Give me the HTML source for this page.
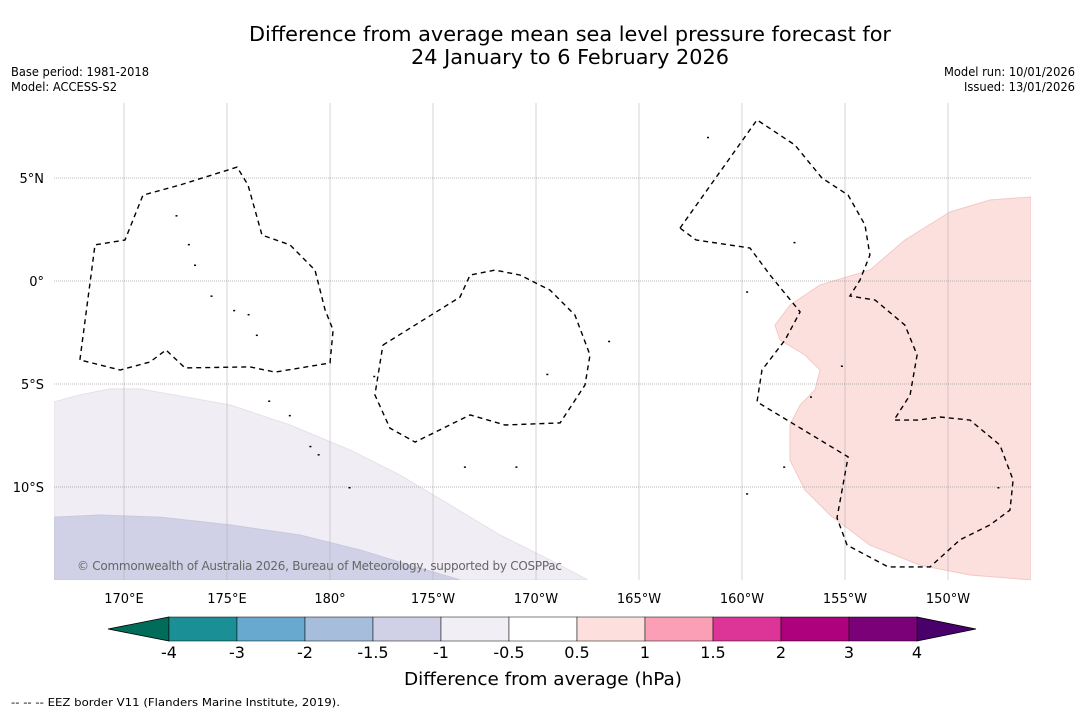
<!DOCTYPE html>
<html><head><meta charset="utf-8"><style>
html,body{margin:0;padding:0;background:#fff;width:1085px;height:713px;overflow:hidden}
svg{display:block;font-family:"DejaVu Sans","Liberation Sans",sans-serif}
</style></head><body>
<svg id="chart" width="1085" height="713" viewBox="0 0 1085 713">
<text x="570" y="41" font-size="20" text-anchor="middle" textLength="642" lengthAdjust="spacingAndGlyphs">Difference from average mean sea level pressure forecast for</text>
<text x="570" y="64" font-size="20" text-anchor="middle" textLength="318" lengthAdjust="spacingAndGlyphs">24 January to 6 February 2026</text>
<text x="11" y="76" font-size="12" textLength="138" lengthAdjust="spacingAndGlyphs">Base period: 1981-2018</text>
<text x="11" y="91" font-size="12" textLength="106" lengthAdjust="spacingAndGlyphs">Model: ACCESS-S2</text>
<text x="1075" y="76" font-size="12" text-anchor="end" textLength="131" lengthAdjust="spacingAndGlyphs">Model run: 10/01/2026</text>
<text x="1075" y="91" font-size="12" text-anchor="end" textLength="111" lengthAdjust="spacingAndGlyphs">Issued: 13/01/2026</text>
<g id="map"></g>
<g id="cbar"></g>
<text x="543" y="685" font-size="18" text-anchor="middle" textLength="278" lengthAdjust="spacingAndGlyphs">Difference from average (hPa)</text>
<text x="11" y="706" font-size="11" textLength="329" lengthAdjust="spacingAndGlyphs">--  --  -- EEZ border V11 (Flanders Marine Institute, 2019).</text>
</svg>
<script>
const lonTicks=[170,175,180,185,190,195,200,205,210];
const lonLabels=["170°E","175°E","180°","175°W","170°W","165°W","160°W","155°W","150°W"];
const latTicks=[5,0,-5,-10];
const latLabels=["5°N","0°","5°S","10°S"];
const anomalyPositive=[[214.03,4.08],[212.04,3.93],[210.1,3.35],[207.91,1.99],[206.21,0.53],[203.79,-0.19],[202.33,-1.17],[201.6,-2.14],[201.84,-2.86],[203.06,-3.59],[203.79,-4.32],[203.54,-5.29],[202.82,-6.02],[202.33,-6.99],[202.33,-8.69],[203.06,-10.15],[204.27,-11.36],[206.21,-12.82],[208.64,-13.79],[211.07,-14.27],[214.03,-14.51]];
const anomalyNegLight=[[166.6,-5.87],[167.86,-5.53],[169.32,-5.24],[170.78,-5.24],[175.15,-6.02],[178.06,-6.99],[180.97,-8.2],[183.4,-9.42],[185.83,-10.87],[188.25,-12.33],[190.68,-13.54],[192.52,-14.51],[166.6,-14.51]];
const anomalyNegDark=[[166.6,-11.46],[168.83,-11.36],[171.75,-11.46],[175.15,-11.84],[178.54,-12.33],[181.46,-13.06],[183.88,-13.79],[186.31,-14.51],[166.6,-14.51]];
const eezGilbert=[[167.86,-3.83],[168.59,1.75],[170.05,1.99],[170.92,4.17],[172.72,4.66],[175.49,5.53],[176.02,4.66],[176.7,2.23],[178.06,1.75],[179.27,0.53],[179.76,-1.41],[180.15,-2.38],[180.0,-3.98],[177.33,-4.42],[176.12,-4.17],[172.96,-4.22],[172.04,-3.35],[171.26,-3.93],[169.81,-4.32],[167.86,-3.83]];
const eezPhoenix=[[182.57,-3.11],[186.31,-0.78],[186.8,0.29],[188.01,0.53],[189.22,0.29],[190.68,-0.44],[191.89,-1.65],[192.62,-3.59],[192.38,-5.05],[191.17,-6.89],[188.5,-6.99],[186.8,-6.5],[184.13,-7.82],[182.91,-7.14],[182.18,-5.53],[182.57,-3.11]];
const eezLine=[[196.99,2.57],[200.73,7.82],[202.57,6.6],[203.88,5.0],[205.15,4.17],[205.97,2.72],[206.21,1.26],[205.73,0.05],[205.24,-0.73],[206.46,-0.92],[207.91,-2.14],[208.5,-3.59],[208.16,-5.53],[207.38,-6.75],[208.54,-6.75],[209.61,-6.6],[211.07,-6.75],[212.52,-7.96],[213.16,-9.66],[213.01,-11.12],[212.04,-11.84],[210.58,-12.57],[209.13,-13.88],[207.09,-13.88],[205.1,-12.82],[204.61,-11.5],[205.15,-8.54],[200.73,-5.87],[200.97,-4.32],[202.09,-2.86],[202.82,-1.5],[201.36,0.29],[200.39,1.6],[197.77,1.99],[196.99,2.57]];
const islands=[[172.5,3.2],[173.1,1.8],[173.4,0.8],[174.2,-0.7],[175.3,-1.4],[176.0,-1.6],[176.4,-2.6],[177.0,-5.8],[178.0,-6.5],[179.0,-8.0],[179.4,-8.4],[189.0,-9.0],[193.5,-2.9],[190.5,-4.5],[200.2,-0.5],[204.8,-4.1],[203.3,-5.6],[212.4,-10.0],[202.0,-9.0],[200.2,-10.3],[198.3,7.0],[202.5,1.9],[180.9,-10.0],[182.1,-4.6],[186.5,-9.0]];
const cbBounds=["-4","-3","-2","-1.5","-1","-0.5","0.5","1","1.5","2","3","4"];
const cbColors=["#1b8f96","#67a9cf","#a6bddb","#d0d1e6","#f1eef6","#ffffff","#fde0dd","#fa9fb5","#dd3497","#ae017e","#7a0177"];
const cbLow="#016c59", cbHigh="#49006a";

const NS="http://www.w3.org/2000/svg";
const X0=54,X1=1031,Y0=103,Y1=580;
const xs=lon=>124+(lon-170)*20.6;
const ys=lat=>281-lat*20.6;
function mk(tag,attrs,parent){const e=document.createElementNS(NS,tag);for(const k in attrs)e.setAttribute(k,attrs[k]);parent.appendChild(e);return e;}
const map=document.getElementById('map');
const pts=a=>a.map(p=>xs(p[0]).toFixed(1)+","+ys(p[1]).toFixed(1)).join(" ");
const cp=mk('clipPath',{id:'clip'},map);
mk('rect',{x:X0,y:Y0,width:X1-X0,height:Y1-Y0},cp);
const g=mk('g',{'clip-path':'url(#clip)'},map);
let e;
e=mk('polygon',{points:pts(anomalyNegLight),fill:'#f1edf4',stroke:'#e6e0ea','stroke-width':1},g);


e=mk('polygon',{points:pts(anomalyNegDark),fill:'#d0d1e6',stroke:'#c8c9df','stroke-width':1},g);


e=mk('polygon',{points:pts(anomalyPositive),fill:'#fce0de',stroke:'#f4c8c6','stroke-width':1},g);


lonTicks.forEach((lon,i)=>{
  const l=mk('line',{x1:xs(lon),x2:xs(lon),y1:Y0,y2:Y1,stroke:'#aaa','stroke-width':0.5},g);
  
  
  const t=mk('text',{x:xs(lon),y:603,'font-size':13,'text-anchor':'middle'},map);t.textContent=lonLabels[i];
  
  
});
latTicks.forEach((lat,i)=>{
  const l=mk('line',{x1:X0,x2:X1,y1:ys(lat),y2:ys(lat),stroke:'#777','stroke-width':0.6,'stroke-dasharray':'1,1'},g);
  
  
  const t=mk('text',{x:44,y:ys(lat)+5,'font-size':13,'text-anchor':'end'},map);t.textContent=latLabels[i];
  
  
});
[[eezGilbert,'eez-gilbert-islands'],[eezPhoenix,'eez-phoenix-islands'],[eezLine,'eez-line-islands']].forEach(([a,n])=>{
  const p=mk('polyline',{points:pts(a),fill:'none',stroke:'#000','stroke-width':1.4,'stroke-dasharray':'5,4'},g);
  
  
});
islands.forEach(p=>{
  const r=mk('rect',{x:xs(p[0]),y:ys(p[1]),width:2,height:1.5,fill:'#000'},g);
  
  
});
e=mk('text',{x:77,y:570,'font-size':12,fill:'#666'},map);e.textContent='© Commonwealth of Australia 2026, Bureau of Meteorology, supported by COSPPac';
e.setAttribute('textLength','485');



const cb=document.getElementById('cbar');
const CB0=169,CBW=68,CY=617,CH=24;
e=mk('polygon',{points:`108,${CY+CH/2} ${CB0},${CY} ${CB0},${CY+CH}`,fill:cbLow,stroke:'#000','stroke-width':0.8},cb);


const right=CB0+CBW*cbColors.length;
e=mk('polygon',{points:`${right},${CY} ${right+59},${CY+CH/2} ${right},${CY+CH}`,fill:cbHigh,stroke:'#000','stroke-width':0.8},cb);


cbColors.forEach((c,i)=>{
  const r=mk('rect',{x:CB0+i*CBW,y:CY,width:CBW,height:CH,fill:c,stroke:'#000','stroke-width':0.5},cb);
  
  
});
cbBounds.forEach((b,i)=>{
  const t=mk('text',{x:CB0+i*CBW,y:658,'font-size':16,'text-anchor':'middle'},cb);t.textContent=b;
  
  
});
</script>
</body></html>
